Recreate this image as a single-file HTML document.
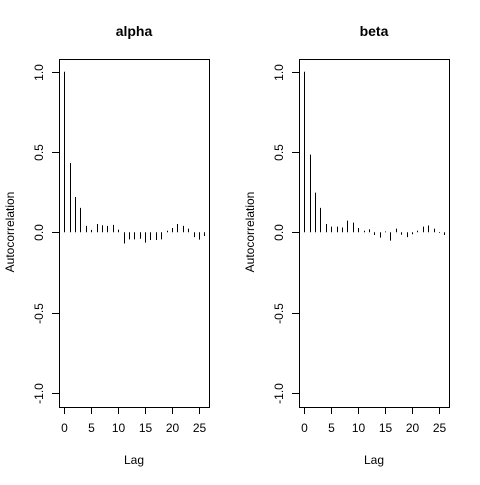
<!DOCTYPE html>
<html><head><meta charset="utf-8"><style>
body{margin:0;background:#fff;}
svg text{font-family:"Liberation Sans",Arial,sans-serif;}
</style></head><body>
<svg id="c" width="480" height="480" xmlns="http://www.w3.org/2000/svg"></svg>
<script>
const lags = [0,1,2,3,4,5,6,7,8,9,10,11,12,13,14,15,16,17,18,19,20,21,22,23,24,25,26];
const alphaAcf = [1,0.432,0.22,0.152,0.04,0.015,0.052,0.044,0.04,0.046,0.017,-0.07,-0.044,-0.044,-0.04,-0.064,-0.048,-0.048,-0.044,0.01,0.027,0.052,0.04,0.023,-0.03,-0.046,-0.023];
const betaAcf = [1,0.484,0.247,0.152,0.052,0.035,0.035,0.03,0.073,0.06,0.027,0.01,0.019,-0.017,-0.033,0.005,-0.052,0.023,-0.015,-0.03,-0.012,0.01,0.035,0.042,0.023,-0.004,-0.017];
const yTicks = [-1,-0.5,0,0.5,1];
const yTickLabels = ["-1.0","-0.5","0.0","0.5","1.0"];
const xTicks = [0,5,10,15,20,25];
const panels = [{title:"alpha",vals:alphaAcf,left:59},{title:"beta",vals:betaAcf,left:299}];
const NS="http://www.w3.org/2000/svg";
const svg=document.getElementById('c');
function mk(tag,attrs,parent){const e=document.createElementNS(NS,tag);for(const k in attrs)e.setAttribute(k,attrs[k]);(parent||svg).appendChild(e);return e;}
panels.forEach(p=>{
  const g=mk('g',{});
  
  
  const top=59,bottom=407,w=150;
  const xS=l=>p.left+5.3+l*5.385;
  const yS=v=>232.3-v*160.5;
  const box=mk('rect',{x:p.left+0.5,y:top+0.5,width:w,height:bottom-top,fill:'none',stroke:'#000'},g);
  
  
  const t=mk('text',{x:p.left+w/2,y:36,'text-anchor':'middle','font-size':'14','font-weight':'bold'},g);
  t.textContent=p.title;
  
  
  yTicks.forEach((v,i)=>{
    const y=Math.round(yS(v))+0.5;
    mk('line',{x1:p.left-7,x2:p.left,y1:y,y2:y,stroke:'#000'},g);
    const tl=mk('text',{x:0,y:0,'text-anchor':'middle','font-size':'12',transform:`translate(${p.left-16},${y}) rotate(-90)`},g);
    tl.textContent=yTickLabels[i];
    
    
  });
  xTicks.forEach(l=>{
    const x=Math.round(xS(l))+0.5;
    mk('line',{x1:x,x2:x,y1:bottom,y2:bottom+7,stroke:'#000'},g);
    const tl=mk('text',{x:x,y:bottom+25,'text-anchor':'middle','font-size':'12'},g);
    tl.textContent=String(l);
    
    
  });
  const xl=mk('text',{x:p.left+w/2,y:464,'text-anchor':'middle','font-size':'12'},g);
  xl.textContent='Lag';
  
  
  const yl=mk('text',{x:0,y:0,'text-anchor':'middle','font-size':'12',transform:`translate(${p.left-45},232) rotate(-90)`},g);
  yl.textContent='Autocorrelation';
  
  
  lags.forEach((l,i)=>{
    const x=Math.round(xS(l))+0.5;
    const b=mk('line',{x1:x,x2:x,y1:yS(0),y2:yS(p.vals[i]),stroke:'#000','stroke-width':1},g);
    
    
  });
});
</script>
</body></html>
